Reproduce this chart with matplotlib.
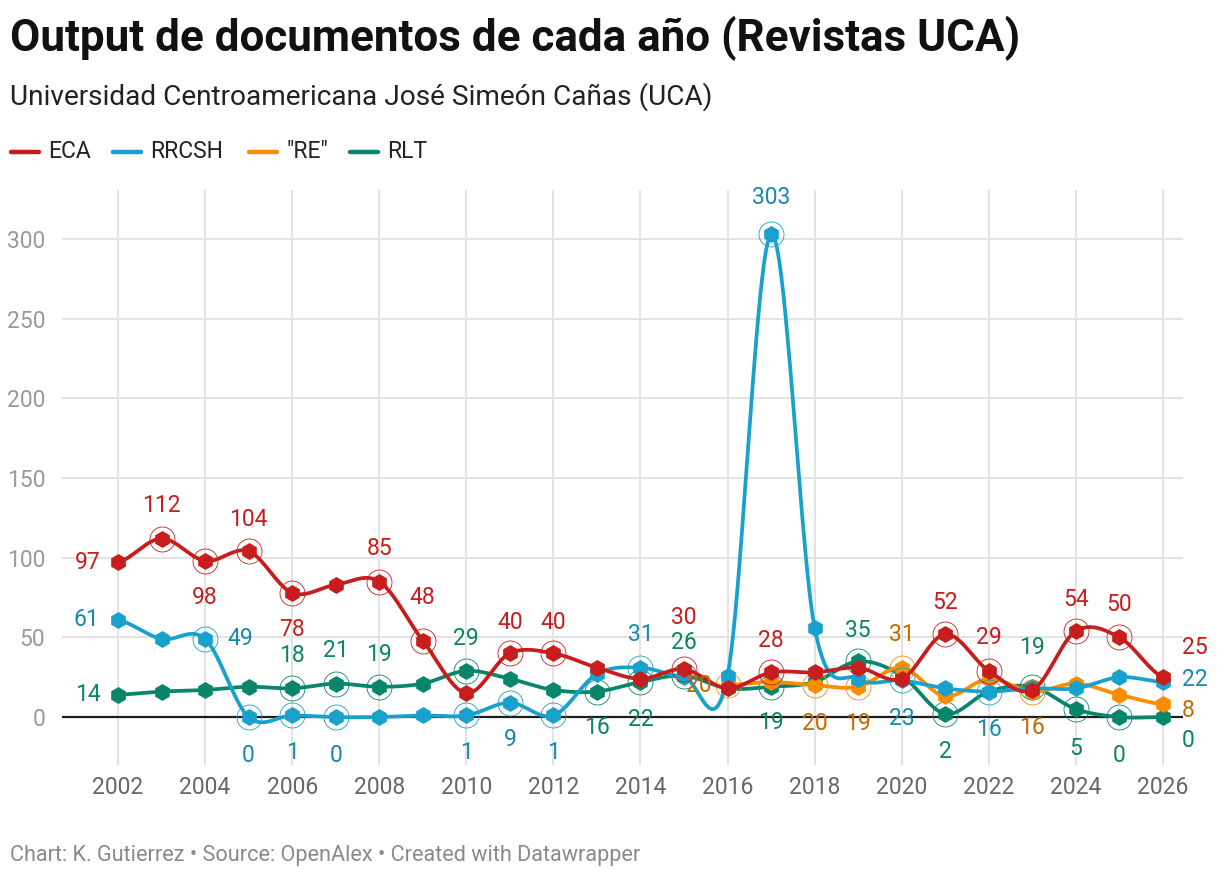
import numpy as np
import matplotlib
matplotlib.use("Agg")
import matplotlib.pyplot as plt
from matplotlib.lines import Line2D

plt.rcParams['font.family'] = ['Roboto', 'DejaVu Sans']

years = list(range(2002, 2027))
eca = [97, 112, 98, 104, 78, 83, 85, 48, 15, 40, 40, 31, 24, 30, 18, 28, 28, 31, 24, 52, 29, 17, 54, 50, 25]
rrcsh = [61, 49, 49, 0, 1, 0, 0, 1, 1, 9, 1, 27, 31, 25, 26, 303, 56, 24, 23, 18, 16, 18, 18, 25, 22]
re_years = list(range(2016, 2027))
re_vals = [20, 22, 20, 19, 31, 13, 24, 16, 21, 14, 8]
rlt = [14, 16, 17, 19, 18, 21, 19, 21, 29, 24, 17, 16, 22, 26, 18, 19, 22, 35, 26, 2, 16, 19, 5, 0, 0]

names = ['ECA', 'RRCSH', '"RE"', 'RLT']
line_colors = ['#c71e1d', '#18a1cd', '#fa8c00', '#09856b']
text_colors = ['#c71e1d', '#1a88ad', '#c46a00', '#0a8466']

# label offsets (pixels) for the labelled points
eca_labels = {2002: (-30, 0), 2003: (0, 33), 2004: (0, -37), 2005: (0, 32), 2006: (0, -37),
              2008: (0, 33), 2009: (0, 43), 2011: (0, 31), 2012: (0, 31), 2015: (0, 52),
              2017: (0, 32), 2021: (0, 32), 2022: (0, 33), 2024: (0, 32), 2025: (0, 33),
              2026: (32, 30)}
rrcsh_labels = {2002: (-32, 0), 2004: (35, 0), 2005: (0, -38), 2006: (0, -37), 2007: (0, -38),
                2010: (0, -37), 2011: (0, -37), 2012: (0, -37), 2014: (0, 33), 2017: (0, 37),
                2020: (0, -38), 2022: (0, -38), 2026: (32, 2)}
re_labels = {2016: (-29, 0), 2018: (0, -38), 2019: (0, -37), 2020: (0, 33), 2023: (0, -36),
             2026: (25, -6)}
rlt_labels = {2002: (-30, 0), 2006: (0, 33), 2007: (0, 33), 2008: (0, 32), 2010: (0, 32),
              2013: (0, -36), 2014: (0, -38), 2015: (0, 33), 2017: (0, -36), 2019: (0, 31),
              2021: (0, -38), 2023: (0, 39), 2024: (0, -39), 2025: (0, -38), 2026: (25, -23)}


def cardinal(xs, ys, steps=24):
    xs = np.asarray(xs, float)
    ys = np.asarray(ys, float)
    n = len(xs)
    out_x, out_y = [], []
    for i in range(n - 1):
        y0 = ys[i - 1] if i > 0 else ys[i]
        y3 = ys[i + 2] if i + 2 < n else ys[i + 1]
        m1 = (ys[i + 1] - y0) / 2
        m2 = (y3 - ys[i]) / 2
        t = np.linspace(0, 1, steps, endpoint=(i == n - 2))
        h00 = 2 * t**3 - 3 * t**2 + 1
        h10 = t**3 - 2 * t**2 + t
        h01 = -2 * t**3 + 3 * t**2
        h11 = t**3 - t**2
        out_y.extend(h00 * ys[i] + h10 * m1 + h01 * ys[i + 1] + h11 * m2)
        out_x.extend(xs[i] + t * (xs[i + 1] - xs[i]))
    return np.array(out_x), np.array(out_y)


fig = plt.figure(figsize=(12.2, 8.8), dpi=100)
ax = fig.add_axes([62 / 1220, 1 - 765 / 880, (1183 - 62) / 1220, (765 - 190) / 880])

ax.set_xlim(2000.714, 2026.46)
ax.set_ylim(-30.1, 330.8)

for v in range(50, 301, 50):
    ax.axhline(v, color='#e3e3e3', lw=1.4, zorder=0)
for yr in range(2002, 2027, 2):
    ax.axvline(yr, color='#e3e3e3', lw=1.4, zorder=0)
ax.axhline(0, color='#1d1d1d', lw=1.6, zorder=1)

series = [
    (years, eca, eca_labels),
    (years, rrcsh, rrcsh_labels),
    (re_years, re_vals, re_labels),
    (years, rlt, rlt_labels),
]
zorders = [8, 6, 5, 4]

for k, (xs, ys, labs) in enumerate(series):
    c = line_colors[k]
    sx, sy = cardinal(xs, ys)
    ax.plot(sx, sy, color=c, lw=2.7, solid_capstyle='round', zorder=zorders[k])
    ax.plot(xs, ys, linestyle='none', marker='h', ms=11, color=c, mec=c, zorder=zorders[k])
    for yr, (dx, dy) in labs.items():
        val = ys[xs.index(yr)]
        if yr not in (2002, 2026):
            ax.plot([yr], [val], linestyle='none', marker='o', ms=18, mfc='none',
                    mec=c, mew=0.6, zorder=zorders[k])
        ax.annotate(str(val), (yr, val), xytext=(dx, dy), textcoords='offset pixels',
                    ha='center', va='center', fontsize=16.5, color=text_colors[k],
                    zorder=10, annotation_clip=False)

ax.set_yticks(range(0, 301, 50))
ax.set_xticks(range(2002, 2027, 2))
ax.tick_params(axis='both', length=0, labelsize=16.5)
ax.tick_params(axis='y', pad=12, labelcolor='#9a9a9a')
ax.tick_params(axis='x', pad=8, labelcolor='#666666')
for s in ax.spines.values():
    s.set_visible(False)

fig.text(10 / 1220, 1 - 38 / 880, 'Output de documentos de cada año (Revistas UCA)',
         fontsize=31.7, fontweight='bold', color='#111111', va='center', ha='left')
fig.text(10 / 1220, 1 - 97 / 880, 'Universidad Centroamericana José Simeón Cañas (UCA)',
         fontsize=20.2, color='#222222', va='center', ha='left')

leg_x = [11, 113, 249, 350]
for k, name in enumerate(names):
    x0 = leg_x[k]
    fig.add_artist(Line2D([x0 / 1220, (x0 + 28) / 1220], [1 - 152 / 880, 1 - 152 / 880],
                          color=line_colors[k], lw=3.2, solid_capstyle='round'))
    fig.text((x0 + 37) / 1220, 1 - 152 / 880, name, fontsize=16.5, color='#222222',
             va='center', ha='left')

fig.text(10 / 1220, 1 - 855 / 880,
         'Chart: K. Gutierrez • Source: OpenAlex • Created with Datawrapper',
         fontsize=15.6, color='#8a8a8a', va='center', ha='left')

fig.savefig('out.png', dpi=100)
